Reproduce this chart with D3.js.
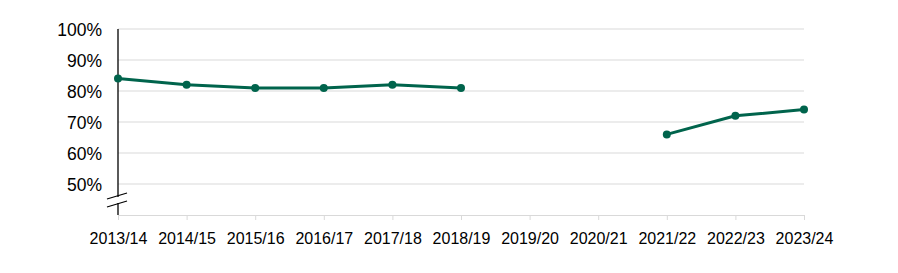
<!DOCTYPE html>
<html><head><meta charset="utf-8">
<script src="https://cdn.jsdelivr.net/npm/d3@7"></script>
<style>body{margin:0;background:#fff}svg{display:block}text{font-family:"Liberation Sans",Arial,sans-serif}</style>
</head><body><svg id="c" width="898" height="273"></svg>
<script>
const categories = ["2013/14","2014/15","2015/16","2016/17","2017/18","2018/19","2019/20","2020/21","2021/22","2022/23","2023/24"];
const values = [84, 82, 81, 81, 82, 81, null, null, 66, 72, 74];
const yTicks = [50, 60, 70, 80, 90, 100];

const svg = d3.select("#c");
const x = d3.scalePoint().domain(categories).range([118, 804]);
const y = d3.scaleLinear().domain([40, 100]).range([215, 29]);
const color = "#00644c";

// gridlines
svg.append("g").selectAll("line").data(yTicks).join("line")
  .attr("x1", 118).attr("x2", 804)
  .attr("y1", d => y(d)).attr("y2", d => y(d))
  .attr("stroke", "#d9d9d9").attr("stroke-width", 1);

// x axis
const xa = svg.append("g").attr("transform", "translate(0,215)")
  .call(d3.axisBottom(x).tickSize(5));
xa.select(".domain").attr("stroke", "#d9d9d9");
xa.selectAll(".tick line").attr("stroke", "#d9d9d9");
xa.selectAll("text").attr("font-size", 16).attr("fill", "#000")
  .attr("dy", null).attr("y", 29)
  .style("font-family", '"Liberation Sans",Arial,sans-serif');

// y axis labels
const ya = svg.append("g").attr("transform", "translate(118,0)")
  .call(d3.axisLeft(y).tickValues(yTicks).tickFormat(d => d + "%").tickSize(0).tickPadding(16));
ya.select(".domain").remove();
ya.selectAll("text").attr("font-size", 17.5).attr("fill", "#000")
  .attr("dy", "0.36em")
  .style("font-family", '"Liberation Sans",Arial,sans-serif');

// y axis line with break
svg.append("line").attr("x1", 118).attr("x2", 118).attr("y1", y(100)).attr("y2", 197)
  .attr("stroke", "#000").attr("stroke-width", 1.3);
svg.append("line").attr("x1", 118).attr("x2", 118).attr("y1", 203).attr("y2", 215)
  .attr("stroke", "#000").attr("stroke-width", 1.3);
[[107,199,127,193],[107,207,127,201]].forEach(s => {
  svg.append("line").attr("x1", s[0]).attr("y1", s[1]).attr("x2", s[2]).attr("y2", s[3])
    .attr("stroke", "#000").attr("stroke-width", 1.2);
});

// line
const pts = categories.map((c, i) => ({c, v: values[i]}));
const line = d3.line().defined(d => d.v != null).x(d => x(d.c)).y(d => y(d.v));
svg.append("path").datum(pts).attr("d", line)
  .attr("fill", "none").attr("stroke", color).attr("stroke-width", 3)
  .attr("stroke-linejoin", "round");
svg.append("g").selectAll("circle").data(pts.filter(d => d.v != null)).join("circle")
  .attr("cx", d => x(d.c)).attr("cy", d => y(d.v)).attr("r", 4).attr("fill", color);
</script></body></html>
